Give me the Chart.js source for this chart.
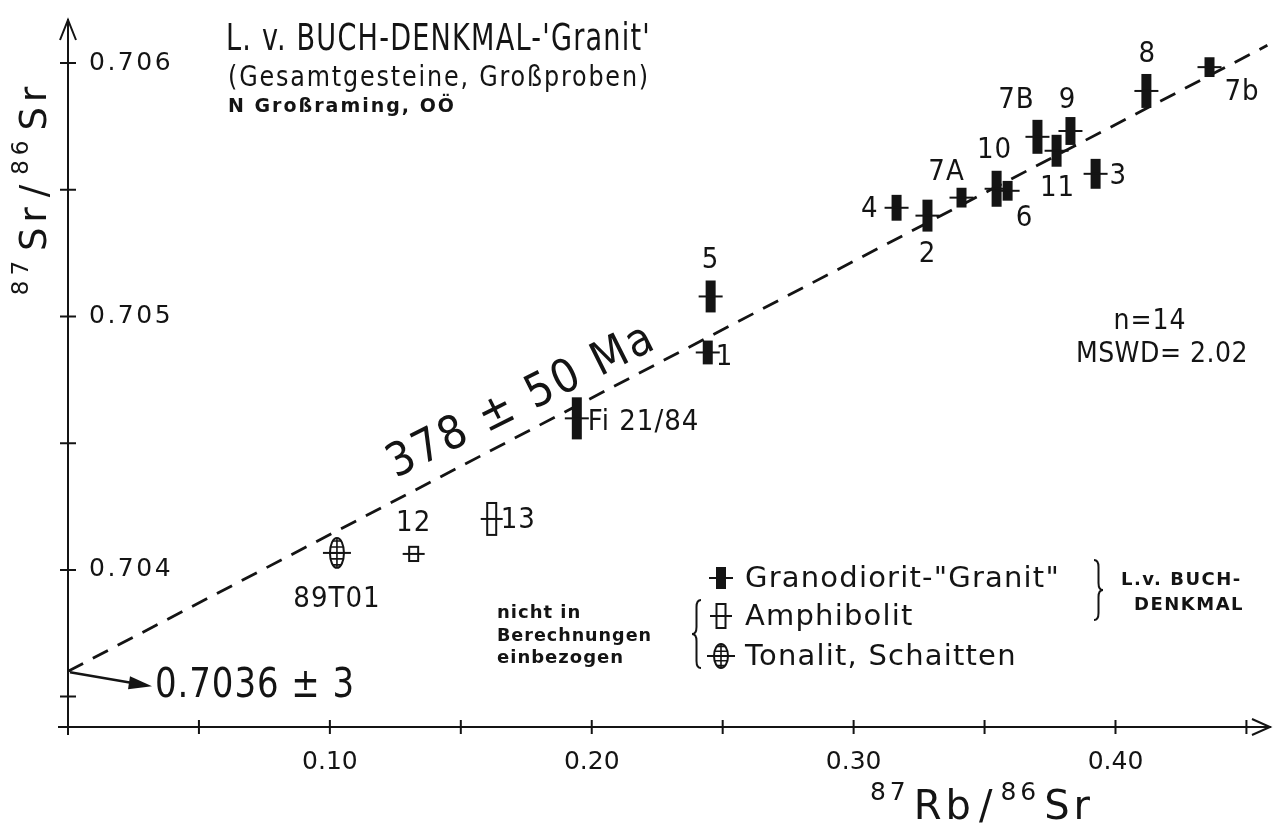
<!DOCTYPE html>
<html>
<head>
<meta charset="utf-8">
<script src="https://cdn.jsdelivr.net/npm/chart.js@4.4.1/dist/chart.umd.min.js"></script>
<style>
  html, body { margin: 0; padding: 0; background: #fff; }
  #c { display: block; }
</style>
</head>
<body>
<canvas id="c" width="1278" height="823"></canvas>
<script>
// ---- data ----
// Granodiorit-"Granit" (L.v. Buch-Denkmal), used for the isochron
const granNames = ["Fi 21/84", "1", "5", "4", "2", "7A", "10", "6", "7B", "11", "9", "3", "8", "7b"];
const granRbSr  = [0.1943, 0.2443, 0.2454, 0.3164, 0.3282, 0.3412, 0.3546, 0.3588, 0.3702, 0.3775, 0.3828, 0.3924, 0.4118, 0.4359];
const granSrSr  = [0.704598, 0.704858, 0.705079, 0.705429, 0.705398, 0.705469, 0.705504, 0.705496, 0.705709, 0.705654, 0.705732, 0.705563, 0.705890, 0.705984];
const granErr   = [0.000083, 0.000047, 0.000063, 0.000051, 0.000063, 0.000039, 0.000071, 0.000039, 0.000067, 0.000063, 0.000055, 0.000059, 0.000067, 0.000039];

// Amphibolit (not in the regression)
const amphNames = ["12", "13"];
const amphRbSr  = [0.1320, 0.1618];
const amphSrSr  = [0.704063, 0.704201];
const amphErr   = [0.000028, 0.000063];

// Tonalit, Schaitten (not in the regression)
const tonNames = ["89T01"];
const tonRbSr  = [0.1027];
const tonSrSr  = [0.704067];
const tonErr   = [0.000059];

// isochron 378 +- 50 Ma, Sri = 0.7036
const isoRbSr = [0, 0.458];
const isoSrSr = [0.7036, 0.70607];

// ticks
const xLabelled = [0.10, 0.20, 0.30, 0.40];
const yLabelled = [0.704, 0.705, 0.706];

const INK = "#141414";
const FONT = "'Liberation Sans Narrow', 'DejaVu Sans Condensed', 'DejaVu Sans', sans-serif";
const FONT_W = "'DejaVu Sans', sans-serif";

function pts(xs, ys) { return xs.map((x, i) => ({ x: x, y: ys[i] })); }
function near(v, list) { return list.some(l => Math.abs(l - v) < 1e-7); }

// label offsets next to each point (px)
const labelPlace = {
  "89T01": [0, 47, "center"], "12": [0, -30, "center"], "13": [9, 2, "left"],
  "Fi 21/84": [11, 4, "left"], "1": [8, 5, "left"], "5": [0, -36, "center"],
  "4": [-18, 2, "right"], "2": [0, 39, "center"], "7A": [-15, -25, "center"],
  "10": [-2, -38, "center"], "6": [17, 28, "center"], "7B": [-21, -36, "center"],
  "11": [1, 38, "center"], "9": [-3, -31, "center"], "3": [14, 3, "left"],
  "8": [1, -36, "center"], "7b": [15, 25, "left"]
};

function text(ctx, s, x, y, size, o) {
  o = o || {};
  ctx.save();
  ctx.font = (o.weight || "normal") + " " + size + "px " + (o.family || FONT);
  ctx.fillStyle = INK;
  ctx.textAlign = o.align || "left";
  ctx.textBaseline = o.base || "middle";
  ctx.letterSpacing = (o.spacing || 0) + "px";
  if (o.maxW) ctx.fillText(s, x, y, o.maxW); else ctx.fillText(s, x, y);
  ctx.restore();
}

// text with superscripts, segments [str, isSup], centred on x
function rich(ctx, segs, x, y, size, sp) {
  ctx.save();
  ctx.fillStyle = INK;
  ctx.textBaseline = "alphabetic";
  ctx.textAlign = "left";
  ctx.letterSpacing = sp + "px";
  const gap = sp;
  let w = 0;
  segs.forEach(s => {
    ctx.font = (s[1] ? Math.round(size * 0.62) : size) + "px " + FONT_W;
    w += ctx.measureText(s[0]).width + gap;
  });
  let cx = x - w / 2;
  segs.forEach(s => {
    ctx.font = (s[1] ? Math.round(size * 0.62) : size) + "px " + FONT_W;
    ctx.fillText(s[0], cx, s[1] ? y - size * 0.48 : y);
    cx += ctx.measureText(s[0]).width + gap;
  });
  ctx.restore();
}

// curly brace, dir = 1 for "}", dir = -1 for "{"
function brace(ctx, x, y1, y2, dir) {
  const w = 9 * dir, ym = (y1 + y2) / 2, r = 7;
  ctx.save();
  ctx.strokeStyle = INK;
  ctx.lineWidth = 2;
  ctx.beginPath();
  ctx.moveTo(x, y1);
  ctx.quadraticCurveTo(x + w * 0.5, y1, x + w * 0.5, y1 + r);
  ctx.lineTo(x + w * 0.5, ym - r);
  ctx.quadraticCurveTo(x + w * 0.5, ym, x + w, ym);
  ctx.quadraticCurveTo(x + w * 0.5, ym, x + w * 0.5, ym + r);
  ctx.lineTo(x + w * 0.5, y2 - r);
  ctx.quadraticCurveTo(x + w * 0.5, y2, x, y2);
  ctx.stroke();
  ctx.restore();
}

function drawMarker(ctx, kind, px, py, hh) {
  ctx.save();
  ctx.strokeStyle = INK;
  ctx.fillStyle = INK;
  ctx.lineWidth = 2;
  if (kind === "gran") {
    ctx.fillRect(px - 5, py - hh, 10, hh * 2);
    ctx.beginPath(); ctx.moveTo(px - 12, py); ctx.lineTo(px + 12, py); ctx.stroke();
  } else if (kind === "amph") {
    ctx.strokeRect(px - 4.5, py - hh, 9, hh * 2);
    ctx.beginPath(); ctx.moveTo(px - 11, py); ctx.lineTo(px + 11, py); ctx.stroke();
  } else {
    ctx.beginPath(); ctx.ellipse(px, py, 7, hh, 0, 0, Math.PI * 2); ctx.stroke();
    ctx.save();
    ctx.beginPath(); ctx.ellipse(px, py, 7, hh, 0, 0, Math.PI * 2); ctx.clip();
    ctx.lineWidth = 1.6;
    ctx.beginPath();
    ctx.moveTo(px, py - hh); ctx.lineTo(px, py + hh);
    for (let k = -2; k <= 2; k++) { ctx.moveTo(px - 8, py + k * hh * 0.4); ctx.lineTo(px + 8, py + k * hh * 0.4); }
    ctx.stroke();
    ctx.restore();
    ctx.beginPath(); ctx.moveTo(px - 14, py); ctx.lineTo(px + 14, py); ctx.stroke();
  }
  ctx.restore();
}

// plugin: axes arrows, cross ticks, error-bar markers, labels and annotations
const figurePlugin = {
  id: "figure",
  beforeDraw(chart) { chart.ctx.letterSpacing = "2.5px"; },    // y tick labels
  beforeDatasetsDraw(chart) { chart.ctx.letterSpacing = "0px"; },
  afterDatasetsDraw(chart) {
    const ctx = chart.ctx;
    const xs = chart.scales.x, ys = chart.scales.y;
    const ca = chart.chartArea;
    ctx.save();
    ctx.strokeStyle = INK;
    ctx.lineWidth = 2;
    // axis extensions + arrows
    ctx.beginPath();
    ctx.moveTo(ca.left, ca.bottom + 8); ctx.lineTo(ca.left, ca.top);
    ctx.moveTo(ca.left - 10, ca.bottom); ctx.lineTo(ca.right, ca.bottom);
    ctx.moveTo(ca.left - 8, ca.top + 20); ctx.lineTo(ca.left, ca.top); ctx.lineTo(ca.left + 8, ca.top + 20);
    ctx.moveTo(ca.right - 18, ca.bottom - 8); ctx.lineTo(ca.right, ca.bottom); ctx.lineTo(ca.right - 18, ca.bottom + 8);
    ctx.stroke();
    // cross ticks
    ctx.beginPath();
    xs.ticks.forEach(t => {
      if (t.value <= 0) return;
      const p = xs.getPixelForValue(t.value);
      ctx.moveTo(p, ca.bottom - 7); ctx.lineTo(p, ca.bottom + 7);
    });
    ys.ticks.forEach(t => {
      const p = ys.getPixelForValue(t.value);
      ctx.moveTo(ca.left - 8, p); ctx.lineTo(ca.left + 8, p);
    });
    ctx.stroke();
    ctx.restore();

    // markers and labels
    chart.data.datasets.forEach((ds, di) => {
      if (!ds.kind) return;
      const meta = chart.getDatasetMeta(di);
      meta.data.forEach((el, i) => {
        const v = ds.data[i].y;
        const hh = Math.abs(ys.getPixelForValue(v - ds.err[i]) - ys.getPixelForValue(v + ds.err[i])) / 2;
        drawMarker(ctx, ds.kind, el.x, el.y, hh);
        const name = ds.names[i];
        const lp = labelPlace[name] || [10, 0, "left"];
        text(ctx, name, el.x + lp[0], el.y + lp[1], 29, { align: lp[2], spacing: 1 });
      });
    });

    // titles
    text(ctx, "L. v. BUCH-DENKMAL-'Granit'", 226, 40, 37, { maxW: 425, spacing: 1.5 });
    text(ctx, "(Gesamtgesteine, Großproben)", 228, 78, 29, { maxW: 422, spacing: 2 });
    text(ctx, "N Großraming, OÖ", 228, 107, 19, { weight: "bold", family: FONT_W, maxW: 228, spacing: 2 });

    // axis titles
    ctx.save();
    ctx.translate(46, 186);
    ctx.rotate(-Math.PI / 2);
    rich(ctx, [["87", true], ["Sr", false], ["/", false], ["86", true], ["Sr", false]], 0, 0, 37, 5);
    ctx.restore();
    rich(ctx, [["87", true], ["Rb", false], ["/", false], ["86", true], ["Sr", false]], 984, 819, 40, 4);

    // isochron age along the line
    ctx.save();
    ctx.translate(522, 402);
    ctx.rotate(-26.5 * Math.PI / 180);
    text(ctx, "378 ± 50 Ma", 0, 0, 46, { align: "center", spacing: 2.5, maxW: 326 });
    ctx.restore();

    // initial ratio with arrow
    const y0 = ys.getPixelForValue(isoSrSr[0]);
    ctx.save();
    ctx.strokeStyle = INK; ctx.fillStyle = INK; ctx.lineWidth = 2.5;
    ctx.beginPath(); ctx.moveTo(ca.left + 2, y0 + 1); ctx.lineTo(ca.left + 66, y0 + 12); ctx.stroke();
    ctx.beginPath(); ctx.moveTo(ca.left + 84, y0 + 15); ctx.lineTo(ca.left + 62, y0 + 5); ctx.lineTo(ca.left + 60, y0 + 18); ctx.closePath(); ctx.fill();
    ctx.restore();
    text(ctx, "0.7036 ± 3", 155, 687, 40, { maxW: 200, spacing: 1 });

    // statistics
    text(ctx, "n=14", 1150, 322, 28, { align: "center", spacing: 1 });
    text(ctx, "MSWD= 2.02", 1162, 355, 28, { align: "center", spacing: 0.5 });

    // legend
    const lg = chart.data.datasets.filter(d => d.kind);
    const rows = [[lg[0], 578], [lg[1], 616], [lg[2], 656]];
    rows.forEach(r => {
      drawMarker(ctx, r[0].kind, 721, r[1], r[0].kind === "gran" ? 11 : 12);
      text(ctx, r[0].label, 745, r[1] + 1, 29, { family: FONT_W, spacing: 1.2, maxW: 340 });
    });
    brace(ctx, 1094, 560, 620, 1);
    brace(ctx, 701, 600, 668, -1);
    text(ctx, "L.v. BUCH-", 1121, 580, 18, { weight: "bold", family: FONT_W, spacing: 1.5, maxW: 134 });
    text(ctx, "DENKMAL", 1134, 605, 18, { weight: "bold", family: FONT_W, spacing: 1.5, maxW: 123 });
    text(ctx, "nicht in", 497, 613, 18, { weight: "bold", family: FONT_W, spacing: 1 });
    text(ctx, "Berechnungen", 497, 636, 18, { weight: "bold", family: FONT_W, spacing: 1, maxW: 155 });
    text(ctx, "einbezogen", 497, 658, 18, { weight: "bold", family: FONT_W, spacing: 1, maxW: 135 });

    ctx.letterSpacing = "0px";                                     // x tick labels drawn after
  },
  afterDraw(chart) { chart.ctx.letterSpacing = "0px"; }
};

const ctx = document.getElementById("c").getContext("2d");
new Chart(ctx, {
  type: "scatter",
  data: {
    datasets: [
      { label: 'Granodiorit-"Granit"', kind: "gran", names: granNames, err: granErr,
        data: pts(granRbSr, granSrSr), pointRadius: 0, pointHoverRadius: 0 },
      { label: "Amphibolit", kind: "amph", names: amphNames, err: amphErr,
        data: pts(amphRbSr, amphSrSr), pointRadius: 0, pointHoverRadius: 0 },
      { label: "Tonalit, Schaitten", kind: "ton", names: tonNames, err: tonErr,
        data: pts(tonRbSr, tonSrSr), pointRadius: 0, pointHoverRadius: 0 },
      { type: "line", label: "Isochrone", data: pts(isoRbSr, isoSrSr),
        borderColor: INK, borderWidth: 2.8, borderDash: [17, 11], pointRadius: 0, fill: false }
    ]
  },
  options: {
    responsive: false,
    animation: false,
    devicePixelRatio: 1,
    layout: { padding: { left: 58, top: 20, right: 8, bottom: 36 } },
    plugins: { legend: { display: false }, tooltip: { enabled: false } },
    scales: {
      x: {
        type: "linear", min: 0, max: 0.459,
        grid: { display: false },
        border: { display: true, color: INK, width: 2 },
        ticks: {
          stepSize: 0.05, includeBounds: false, padding: 12, maxRotation: 0, autoSkip: false, z: 1,
          color: INK, font: { family: FONT_W, size: 25 },
          callback: v => near(v, xLabelled) ? v.toFixed(2) : ""
        },
        afterFit: s => { s.height = 60; s.paddingLeft = 0; s.paddingRight = 0; }
      },
      y: {
        type: "linear", min: 0.70338, max: 0.70617,
        grid: { display: false },
        border: { display: true, color: INK, width: 2 },
        ticks: {
          stepSize: 0.0005, includeBounds: false, mirror: true, padding: 21, autoSkip: false,
          color: INK, font: { family: FONT_W, size: 25 },
          callback: v => near(v, yLabelled) ? v.toFixed(3) : ""
        },
        afterFit: s => { s.width = 10; s.paddingTop = 0; s.paddingBottom = 0; }
      }
    }
  },
  plugins: [figurePlugin]
});
</script>
</body>
</html>
